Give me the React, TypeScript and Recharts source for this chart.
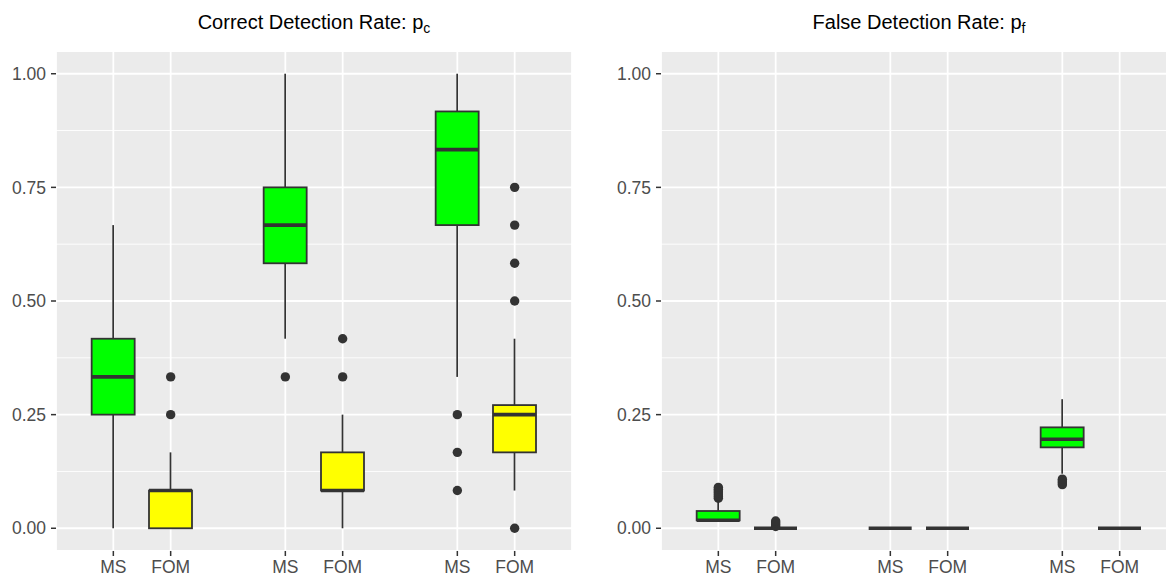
import React from 'react'
import { ComposedChart, Bar, Scatter, XAxis, YAxis, CartesianGrid } from 'recharts'

// x slots: three groups of (MS, FOM), one empty slot between groups
const positions = [1, 2, 4, 5, 7, 8]
const methods = ['MS', 'FOM', 'MS', 'FOM', 'MS', 'FOM']
const boxFills = ['#00FF00', '#FFFF00', '#00FF00', '#FFFF00', '#00FF00', '#FFFF00']
const yTicks = [0, 0.25, 0.5, 0.75, 1]
const yMinor = [0.125, 0.375, 0.625, 0.875]

// Correct detection rate p_c
const pcLow = [0, 0, 0.417, 0, 0.333, 0.083]
const pcQ1 = [0.25, 0, 0.583, 0.083, 0.667, 0.167]
const pcMed = [0.333, 0.083, 0.667, 0.083, 0.833, 0.25]
const pcQ3 = [0.417, 0.083, 0.75, 0.167, 0.917, 0.271]
const pcHigh = [0.667, 0.167, 1, 0.25, 1, 0.417]
const pcOutX = [2, 2, 4, 5, 5, 7, 7, 7, 8, 8, 8, 8, 8]
const pcOutY = [0.25, 0.333, 0.333, 0.333, 0.417, 0.25, 0.167, 0.083, 0, 0.5, 0.583, 0.667, 0.75]

// False detection rate p_f
const pfLow = [0.0175, 0, 0, 0, 0.12, 0]
const pfQ1 = [0.0175, 0, 0, 0, 0.178, 0]
const pfMed = [0.0175, 0, 0, 0, 0.196, 0]
const pfQ3 = [0.038, 0, 0, 0, 0.222, 0]
const pfHigh = [0.062, 0, 0, 0, 0.284, 0]
const pfOutX = [1, 1, 1, 1, 1, 1, 1, 2, 2, 2, 2, 7, 7, 7, 7]
const pfOutY = [0.066, 0.07, 0.074, 0.078, 0.082, 0.086, 0.09, 0.004, 0.008, 0.012, 0.016, 0.096, 0.1, 0.104, 0.108]

const INK = '#333333'

function buildRows(lo: number[], q1: number[], med: number[], q3: number[], hi: number[]) {
  return positions.map((x, i) => ({
    x,
    range: [lo[i], hi[i]],
    lo: lo[i],
    q1: q1[i],
    med: med[i],
    q3: q3[i],
    hi: hi[i],
    fill: boxFills[i],
  }))
}

function buildOutliers(xs: number[], ys: number[]) {
  return xs.map((x, i) => ({ x, y: ys[i] }))
}

// draws whiskers, box and median inside the whisker range bar
function BoxShape(props: any) {
  const { x, y, width, height, payload } = props
  if (payload == null || x == null) return null
  const { lo, q1, med, q3, hi, fill } = payload
  const span = hi - lo
  const py = (v: number) => (span > 0 ? y + (height * (hi - v)) / span : y)
  const cx = x + width / 2
  return (
    <g>
      <line x1={cx} x2={cx} y1={py(hi)} y2={py(q3)} stroke={INK} strokeWidth={1.7} />
      <line x1={cx} x2={cx} y1={py(q1)} y2={py(lo)} stroke={INK} strokeWidth={1.7} />
      <rect
        x={x}
        y={py(q3)}
        width={width}
        height={Math.max(py(q1) - py(q3), 0)}
        fill={fill}
        stroke={INK}
        strokeWidth={1.8}
      />
      <line x1={x} x2={x + width} y1={py(med)} y2={py(med)} stroke={INK} strokeWidth={3.6} />
    </g>
  )
}

function Dot(props: any) {
  return <circle cx={props.cx} cy={props.cy} r={4.7} fill={INK} />
}

const tickText = { fill: '#4D4D4D', fontSize: 17.5 }

type PanelProps = {
  left: number
  title: string
  sub: string
  rows: ReturnType<typeof buildRows>
  outliers: { x: number; y: number }[]
}

function Panel({ left, title, sub, rows, outliers }: PanelProps) {
  return (
    <div style={{ position: 'absolute', left, top: 0, width: 572, height: 576 }}>
      <div
        style={{
          position: 'absolute',
          left: 56,
          width: 516,
          top: 12,
          lineHeight: '20px',
          fontSize: 20,
          textAlign: 'center',
          color: '#000',
          whiteSpace: 'nowrap',
        }}
      >
        {title}
        <span style={{ fontSize: '0.7em', position: 'relative', top: '0.3em' }}>{sub}</span>
      </div>
      <ComposedChart width={572} height={576} data={rows} margin={{ top: 51, right: 0, bottom: 0, left: 0 }}>
        <CartesianGrid
          fill="#EBEBEB"
          stroke="#FFFFFF"
          strokeWidth={0.9}
          vertical={false}
          horizontalValues={yMinor}
        />
        <CartesianGrid stroke="#FFFFFF" strokeWidth={1.8} />
        <XAxis
          type="number"
          dataKey="x"
          domain={[0, 9]}
          ticks={positions}
          allowDataOverflow
          interval={0}
          height={25}
          axisLine={false}
          tickLine={{ stroke: INK, strokeWidth: 1.5 }}
          tickSize={5}
          tickMargin={5}
          tick={tickText}
          tickFormatter={(v: number) => methods[positions.indexOf(v)]}
        />
        <YAxis
          type="number"
          domain={[-0.05, 1.05]}
          ticks={yTicks}
          allowDataOverflow
          interval={0}
          width={56}
          axisLine={false}
          tickLine={{ stroke: INK, strokeWidth: 1.5 }}
          tickSize={5}
          tickMargin={5}
          tick={tickText}
          tickFormatter={(v: number) => v.toFixed(2)}
        />
        <Bar dataKey="range" barSize={43} shape={BoxShape} isAnimationActive={false} />
        <Scatter data={outliers} dataKey="y" shape={Dot} isAnimationActive={false} />
      </ComposedChart>
    </div>
  )
}

export default function App() {
  return (
    <div
      style={{
        position: 'absolute',
        left: 0,
        top: 0,
        width: 1166,
        height: 576,
        overflow: 'hidden',
        background: '#FFFFFF',
        fontFamily: '"Liberation Sans", Arial, sans-serif',
      }}
    >
      <Panel
        left={0}
        title="Correct Detection Rate: p"
        sub="c"
        rows={buildRows(pcLow, pcQ1, pcMed, pcQ3, pcHigh)}
        outliers={buildOutliers(pcOutX, pcOutY)}
      />
      <Panel
        left={605}
        title="False Detection Rate: p"
        sub="f"
        rows={buildRows(pfLow, pfQ1, pfMed, pfQ3, pfHigh)}
        outliers={buildOutliers(pfOutX, pfOutY)}
      />
    </div>
  )
}
